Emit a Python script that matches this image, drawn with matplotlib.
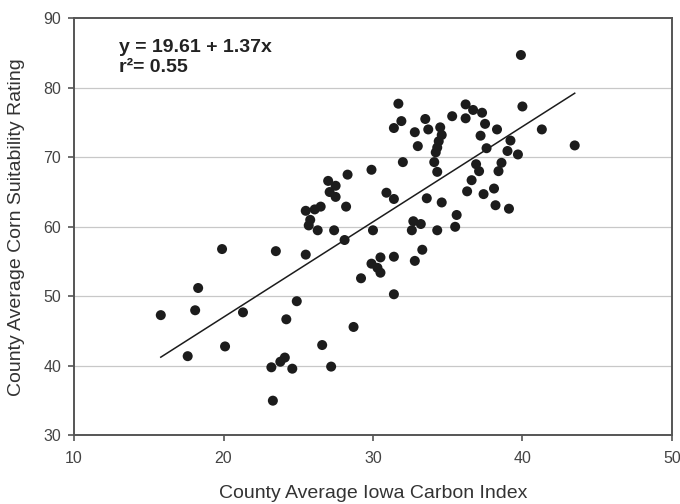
import matplotlib
matplotlib.use("Agg")
import matplotlib.pyplot as plt
import numpy as np

plt.rcParams["font.family"] = ["Liberation Sans", "DejaVu Sans"]

# county averages
carbon_index = [15.8, 17.6, 18.1, 18.3, 19.9, 20.1, 21.3, 23.5, 23.2, 23.3,
                23.8, 24.1, 24.2, 24.6, 24.9, 25.5, 25.5, 25.8, 25.7, 26.1,
                26.5, 26.3, 26.6, 27.0, 27.5, 27.1, 27.5, 27.4, 27.2, 28.3,
                28.2, 28.1, 28.7, 29.2, 29.9, 30.0, 29.9, 30.3, 30.5, 30.5,
                30.9, 31.4, 31.4, 31.4, 31.4, 31.7, 31.9, 32.0, 32.7, 32.6,
                33.2, 32.8, 33.0, 32.8, 33.3, 33.6, 33.5, 33.7, 34.3, 34.5,
                34.6, 34.4, 34.3, 34.2, 34.1, 34.3, 34.6, 35.3, 35.6, 35.5,
                36.2, 36.2, 36.7, 36.3, 36.6, 36.9, 37.1, 37.2, 37.3, 37.5,
                37.4, 37.6, 38.1, 38.3, 38.2, 38.4, 38.6, 39.1, 39.0, 39.2,
                39.7, 39.9, 40.0, 41.3, 43.5]
suitability = [47.3, 41.4, 48.0, 51.2, 56.8, 42.8, 47.7, 56.5, 39.8, 35.0,
               40.6, 41.2, 46.7, 39.6, 49.3, 56.0, 62.3, 61.0, 60.2, 62.5,
               62.9, 59.5, 43.0, 66.6, 65.9, 65.0, 64.3, 59.5, 39.9, 67.5,
               62.9, 58.1, 45.6, 52.6, 68.2, 59.5, 54.7, 54.1, 53.4, 55.6,
               64.9, 64.0, 55.7, 50.3, 74.2, 77.7, 75.2, 69.3, 60.8, 59.5,
               60.4, 73.6, 71.6, 55.1, 56.7, 64.1, 75.5, 74.0, 59.5, 74.3,
               73.2, 72.3, 71.4, 70.7, 69.3, 67.9, 63.5, 75.9, 61.7, 60.0,
               77.6, 75.6, 76.8, 65.1, 66.7, 69.0, 68.0, 73.1, 76.4, 74.8,
               64.7, 71.3, 65.5, 74.0, 63.1, 68.0, 69.2, 62.6, 70.9, 72.4,
               70.4, 84.7, 77.3, 74.0, 71.7]

intercept = 19.61
slope = 1.37

fig = plt.figure(figsize=(6.8, 5.04), dpi=100)
ax = fig.add_axes([0.109, 0.136, 0.879, 0.828])

for yg in [40, 50, 60, 70, 80]:
    ax.axhline(yg, color="#c8c8c8", lw=0.9, zorder=0)

ax.scatter(carbon_index, suitability, s=52, color="#1c1c1c", edgecolors="none", zorder=3)

xfit = np.array([min(carbon_index), max(carbon_index)])
ax.plot(xfit, intercept + slope * xfit, color="#1c1c1c", lw=1.1, zorder=2)

ax.set_xlim(10, 50)
ax.set_ylim(30, 90)
ax.set_xticks([10, 20, 30, 40, 50])
ax.set_yticks([30, 40, 50, 60, 70, 80, 90])

for sp in ax.spines.values():
    sp.set_color("#555555")
    sp.set_linewidth(1.4)
ax.tick_params(direction="out", length=4.3, width=1.2, color="#555555",
               labelcolor="#444444", labelsize=11.5)
ax.tick_params(axis="y", pad=5)
ax.tick_params(axis="x", pad=7)

ax.set_xlabel("County Average Iowa Carbon Index", fontsize=14, color="#333333", va="center")
ax.xaxis.set_label_coords(0.5, -0.138)
ax.set_ylabel("County Average Corn Suitability Rating", fontsize=14, color="#333333", va="center")
ax.yaxis.set_label_coords(-0.097, 0.5)

ax.text(0.075, 0.95, "y = 19.61 + 1.37x\nr\u00b2= 0.55", transform=ax.transAxes,
        fontsize=14, fontweight="bold", color="#222222", linespacing=1.25, va="top")

fig.savefig("out.png", dpi=100)
